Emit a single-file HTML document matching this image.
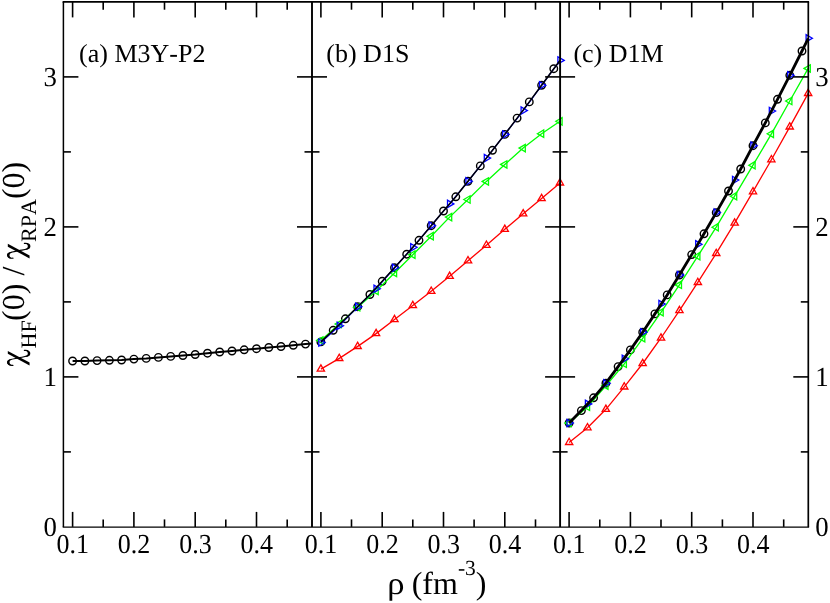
<!DOCTYPE html>
<html><head><meta charset="utf-8"><title>chart</title>
<style>
html,body{margin:0;padding:0;background:#fff;}
svg{display:block;will-change:transform;}
text{font-family:"Liberation Serif",serif;fill:#000;font-kerning:none;text-rendering:geometricPrecision;}
</style></head>
<body>
<svg width="830" height="603" viewBox="0 0 830 603">
<rect width="830" height="603" fill="#fff"/>
<g>
<polyline fill="none" stroke="#000000" stroke-width="2" points="72.6,361.0 84.9,361.0 97.1,360.6 109.4,360.3 121.6,360.0 133.9,359.1 146.2,358.4 158.4,357.4 170.7,356.4 182.9,355.5 195.2,354.5 207.5,353.2 219.7,352.0 232.0,351.0 244.2,349.8 256.5,348.7 268.8,347.5 281.0,346.5 293.3,345.3 305.5,344.1 312.0,343.5"/>
<circle cx="72.6" cy="361.0" r="3.75" fill="none" stroke="#000000" stroke-width="1.4"/>
<circle cx="84.9" cy="361.0" r="3.75" fill="none" stroke="#000000" stroke-width="1.4"/>
<circle cx="97.1" cy="360.6" r="3.75" fill="none" stroke="#000000" stroke-width="1.4"/>
<circle cx="109.4" cy="360.3" r="3.75" fill="none" stroke="#000000" stroke-width="1.4"/>
<circle cx="121.6" cy="360.0" r="3.75" fill="none" stroke="#000000" stroke-width="1.4"/>
<circle cx="133.9" cy="359.1" r="3.75" fill="none" stroke="#000000" stroke-width="1.4"/>
<circle cx="146.2" cy="358.4" r="3.75" fill="none" stroke="#000000" stroke-width="1.4"/>
<circle cx="158.4" cy="357.4" r="3.75" fill="none" stroke="#000000" stroke-width="1.4"/>
<circle cx="170.7" cy="356.4" r="3.75" fill="none" stroke="#000000" stroke-width="1.4"/>
<circle cx="182.9" cy="355.5" r="3.75" fill="none" stroke="#000000" stroke-width="1.4"/>
<circle cx="195.2" cy="354.5" r="3.75" fill="none" stroke="#000000" stroke-width="1.4"/>
<circle cx="207.5" cy="353.2" r="3.75" fill="none" stroke="#000000" stroke-width="1.4"/>
<circle cx="219.7" cy="352.0" r="3.75" fill="none" stroke="#000000" stroke-width="1.4"/>
<circle cx="232.0" cy="351.0" r="3.75" fill="none" stroke="#000000" stroke-width="1.4"/>
<circle cx="244.2" cy="349.8" r="3.75" fill="none" stroke="#000000" stroke-width="1.4"/>
<circle cx="256.5" cy="348.7" r="3.75" fill="none" stroke="#000000" stroke-width="1.4"/>
<circle cx="268.8" cy="347.5" r="3.75" fill="none" stroke="#000000" stroke-width="1.4"/>
<circle cx="281.0" cy="346.5" r="3.75" fill="none" stroke="#000000" stroke-width="1.4"/>
<circle cx="293.3" cy="345.3" r="3.75" fill="none" stroke="#000000" stroke-width="1.4"/>
<circle cx="305.5" cy="344.1" r="3.75" fill="none" stroke="#000000" stroke-width="1.4"/>
<circle cx="320.9" cy="341.9" r="3.75" fill="none" stroke="#000000" stroke-width="1.4"/>
<circle cx="333.2" cy="330.3" r="3.75" fill="none" stroke="#000000" stroke-width="1.4"/>
<circle cx="345.4" cy="318.8" r="3.75" fill="none" stroke="#000000" stroke-width="1.4"/>
<circle cx="357.7" cy="306.7" r="3.75" fill="none" stroke="#000000" stroke-width="1.4"/>
<circle cx="369.9" cy="294.5" r="3.75" fill="none" stroke="#000000" stroke-width="1.4"/>
<circle cx="382.2" cy="281.3" r="3.75" fill="none" stroke="#000000" stroke-width="1.4"/>
<circle cx="394.5" cy="267.7" r="3.75" fill="none" stroke="#000000" stroke-width="1.4"/>
<circle cx="406.7" cy="254.2" r="3.75" fill="none" stroke="#000000" stroke-width="1.4"/>
<circle cx="419.0" cy="240.3" r="3.75" fill="none" stroke="#000000" stroke-width="1.4"/>
<circle cx="431.2" cy="225.7" r="3.75" fill="none" stroke="#000000" stroke-width="1.4"/>
<circle cx="443.5" cy="211.0" r="3.75" fill="none" stroke="#000000" stroke-width="1.4"/>
<circle cx="455.8" cy="196.8" r="3.75" fill="none" stroke="#000000" stroke-width="1.4"/>
<circle cx="468.0" cy="181.3" r="3.75" fill="none" stroke="#000000" stroke-width="1.4"/>
<circle cx="480.3" cy="165.9" r="3.75" fill="none" stroke="#000000" stroke-width="1.4"/>
<circle cx="492.5" cy="150.3" r="3.75" fill="none" stroke="#000000" stroke-width="1.4"/>
<circle cx="504.8" cy="134.4" r="3.75" fill="none" stroke="#000000" stroke-width="1.4"/>
<circle cx="517.1" cy="118.1" r="3.75" fill="none" stroke="#000000" stroke-width="1.4"/>
<circle cx="529.3" cy="101.9" r="3.75" fill="none" stroke="#000000" stroke-width="1.4"/>
<circle cx="541.6" cy="85.3" r="3.75" fill="none" stroke="#000000" stroke-width="1.4"/>
<circle cx="553.8" cy="68.7" r="3.75" fill="none" stroke="#000000" stroke-width="1.4"/>
<polyline fill="none" stroke="#ff0000" stroke-width="1.3" points="320.9,369.1 339.3,358.4 357.7,346.4 376.1,333.6 394.5,319.6 412.8,305.5 431.2,291.2 449.6,276.3 468.0,260.7 486.4,245.2 504.8,229.3 523.2,213.8 541.6,198.5 560.0,182.9"/>
<polygon fill="none" stroke="#ff0000" stroke-width="1.3" points="320.9,364.9 317.2,371.2 324.5,371.2"/>
<polygon fill="none" stroke="#ff0000" stroke-width="1.3" points="339.3,354.2 335.6,360.5 342.9,360.5"/>
<polygon fill="none" stroke="#ff0000" stroke-width="1.3" points="357.7,342.2 354.0,348.5 361.3,348.5"/>
<polygon fill="none" stroke="#ff0000" stroke-width="1.3" points="376.1,329.4 372.4,335.7 379.7,335.7"/>
<polygon fill="none" stroke="#ff0000" stroke-width="1.3" points="394.5,315.4 390.8,321.7 398.1,321.7"/>
<polygon fill="none" stroke="#ff0000" stroke-width="1.3" points="412.8,301.3 409.2,307.6 416.5,307.6"/>
<polygon fill="none" stroke="#ff0000" stroke-width="1.3" points="431.2,287.0 427.6,293.3 434.9,293.3"/>
<polygon fill="none" stroke="#ff0000" stroke-width="1.3" points="449.6,272.1 446.0,278.4 453.3,278.4"/>
<polygon fill="none" stroke="#ff0000" stroke-width="1.3" points="468.0,256.5 464.4,262.8 471.7,262.8"/>
<polygon fill="none" stroke="#ff0000" stroke-width="1.3" points="486.4,241.0 482.8,247.3 490.1,247.3"/>
<polygon fill="none" stroke="#ff0000" stroke-width="1.3" points="504.8,225.1 501.1,231.4 508.4,231.4"/>
<polygon fill="none" stroke="#ff0000" stroke-width="1.3" points="523.2,209.6 519.5,215.9 526.8,215.9"/>
<polygon fill="none" stroke="#ff0000" stroke-width="1.3" points="541.6,194.3 537.9,200.6 545.2,200.6"/>
<polygon fill="none" stroke="#ff0000" stroke-width="1.3" points="560.0,178.7 556.3,185.0 563.6,185.0"/>
<polyline fill="none" stroke="#00ff00" stroke-width="1.3" points="320.9,340.4 339.3,324.0 357.7,307.3 376.1,291.0 394.5,273.0 412.8,254.7 431.2,236.2 449.6,217.1 468.0,199.5 486.4,181.4 504.8,164.4 523.2,148.1 541.6,133.7 560.0,121.3"/>
<polygon fill="none" stroke="#00ff00" stroke-width="1.3" points="316.7,340.4 323.0,336.8 323.0,344.0"/>
<polygon fill="none" stroke="#00ff00" stroke-width="1.3" points="335.1,324.0 341.4,320.4 341.4,327.6"/>
<polygon fill="none" stroke="#00ff00" stroke-width="1.3" points="353.5,307.3 359.8,303.7 359.8,310.9"/>
<polygon fill="none" stroke="#00ff00" stroke-width="1.3" points="371.9,291.0 378.2,287.4 378.2,294.6"/>
<polygon fill="none" stroke="#00ff00" stroke-width="1.3" points="390.2,273.0 396.6,269.4 396.6,276.6"/>
<polygon fill="none" stroke="#00ff00" stroke-width="1.3" points="408.6,254.7 415.0,251.0 415.0,258.3"/>
<polygon fill="none" stroke="#00ff00" stroke-width="1.3" points="427.0,236.2 433.3,232.5 433.3,239.8"/>
<polygon fill="none" stroke="#00ff00" stroke-width="1.3" points="445.4,217.1 451.7,213.4 451.7,220.8"/>
<polygon fill="none" stroke="#00ff00" stroke-width="1.3" points="463.8,199.5 470.1,195.8 470.1,203.2"/>
<polygon fill="none" stroke="#00ff00" stroke-width="1.3" points="482.2,181.4 488.5,177.8 488.5,185.1"/>
<polygon fill="none" stroke="#00ff00" stroke-width="1.3" points="500.6,164.4 506.9,160.8 506.9,168.1"/>
<polygon fill="none" stroke="#00ff00" stroke-width="1.3" points="519.0,148.1 525.3,144.4 525.3,151.8"/>
<polygon fill="none" stroke="#00ff00" stroke-width="1.3" points="537.4,133.7 543.7,130.0 543.7,137.3"/>
<polygon fill="none" stroke="#00ff00" stroke-width="1.3" points="555.8,121.3 562.1,117.6 562.1,125.0"/>
<polyline fill="none" stroke="#0000ff" stroke-width="1.3" points="320.9,342.6 339.3,325.8 357.7,306.7 376.1,288.8 394.5,267.8 412.8,247.3 431.2,225.7 449.6,203.9 468.0,181.3 486.4,158.1 504.8,134.4 523.2,110.6 541.6,85.3 560.0,60.4"/>
<polygon fill="none" stroke="#0000ff" stroke-width="1.3" points="325.1,342.6 318.8,339.0 318.8,346.2"/>
<polygon fill="none" stroke="#0000ff" stroke-width="1.3" points="343.5,325.8 337.2,322.2 337.2,329.4"/>
<polygon fill="none" stroke="#0000ff" stroke-width="1.3" points="361.9,306.7 355.6,303.1 355.6,310.3"/>
<polygon fill="none" stroke="#0000ff" stroke-width="1.3" points="380.3,288.8 374.0,285.2 374.0,292.4"/>
<polygon fill="none" stroke="#0000ff" stroke-width="1.3" points="398.7,267.8 392.4,264.2 392.4,271.4"/>
<polygon fill="none" stroke="#0000ff" stroke-width="1.3" points="417.1,247.3 410.7,243.7 410.7,251.0"/>
<polygon fill="none" stroke="#0000ff" stroke-width="1.3" points="435.5,225.7 429.1,222.0 429.1,229.3"/>
<polygon fill="none" stroke="#0000ff" stroke-width="1.3" points="453.8,203.9 447.5,200.2 447.5,207.6"/>
<polygon fill="none" stroke="#0000ff" stroke-width="1.3" points="472.2,181.3 465.9,177.7 465.9,185.0"/>
<polygon fill="none" stroke="#0000ff" stroke-width="1.3" points="490.6,158.1 484.3,154.4 484.3,161.8"/>
<polygon fill="none" stroke="#0000ff" stroke-width="1.3" points="509.0,134.4 502.7,130.8 502.7,138.1"/>
<polygon fill="none" stroke="#0000ff" stroke-width="1.3" points="527.4,110.6 521.1,106.9 521.1,114.2"/>
<polygon fill="none" stroke="#0000ff" stroke-width="1.3" points="545.8,85.3 539.5,81.6 539.5,89.0"/>
<polygon fill="none" stroke="#0000ff" stroke-width="1.3" points="564.2,60.4 557.9,56.8 557.9,64.0"/>
<polyline fill="none" stroke="#000000" stroke-width="1.5" points="320.9,341.9 333.2,330.3 345.4,318.8 357.7,306.7 369.9,294.5 382.2,281.3 394.5,267.7 406.7,254.2 419.0,240.3 431.2,225.7 443.5,211.0 455.8,196.8 468.0,181.3 480.3,165.9 492.5,150.3 504.8,134.4 517.1,118.1 529.3,101.9 541.6,85.3 553.8,68.7 560.0,60.5"/>
<circle cx="569.1" cy="423.0" r="3.75" fill="none" stroke="#000000" stroke-width="1.4"/>
<circle cx="581.4" cy="410.6" r="3.75" fill="none" stroke="#000000" stroke-width="1.4"/>
<circle cx="593.6" cy="397.8" r="3.75" fill="none" stroke="#000000" stroke-width="1.4"/>
<circle cx="605.9" cy="383.2" r="3.75" fill="none" stroke="#000000" stroke-width="1.4"/>
<circle cx="618.1" cy="366.6" r="3.75" fill="none" stroke="#000000" stroke-width="1.4"/>
<circle cx="630.4" cy="349.9" r="3.75" fill="none" stroke="#000000" stroke-width="1.4"/>
<circle cx="642.7" cy="332.2" r="3.75" fill="none" stroke="#000000" stroke-width="1.4"/>
<circle cx="654.9" cy="313.9" r="3.75" fill="none" stroke="#000000" stroke-width="1.4"/>
<circle cx="667.2" cy="294.9" r="3.75" fill="none" stroke="#000000" stroke-width="1.4"/>
<circle cx="679.4" cy="275.0" r="3.75" fill="none" stroke="#000000" stroke-width="1.4"/>
<circle cx="691.7" cy="254.6" r="3.75" fill="none" stroke="#000000" stroke-width="1.4"/>
<circle cx="704.0" cy="233.8" r="3.75" fill="none" stroke="#000000" stroke-width="1.4"/>
<circle cx="716.2" cy="212.6" r="3.75" fill="none" stroke="#000000" stroke-width="1.4"/>
<circle cx="728.5" cy="191.0" r="3.75" fill="none" stroke="#000000" stroke-width="1.4"/>
<circle cx="740.7" cy="169.0" r="3.75" fill="none" stroke="#000000" stroke-width="1.4"/>
<circle cx="753.0" cy="145.7" r="3.75" fill="none" stroke="#000000" stroke-width="1.4"/>
<circle cx="765.3" cy="122.9" r="3.75" fill="none" stroke="#000000" stroke-width="1.4"/>
<circle cx="777.5" cy="99.3" r="3.75" fill="none" stroke="#000000" stroke-width="1.4"/>
<circle cx="789.8" cy="75.3" r="3.75" fill="none" stroke="#000000" stroke-width="1.4"/>
<circle cx="802.0" cy="51.0" r="3.75" fill="none" stroke="#000000" stroke-width="1.4"/>
<polyline fill="none" stroke="#ff0000" stroke-width="1.3" points="569.1,442.4 587.5,427.7 605.9,409.3 624.3,386.9 642.7,363.5 661.0,338.0 679.4,310.6 697.8,282.4 716.2,253.4 734.6,223.1 753.0,191.7 771.4,159.7 789.8,126.9 808.2,93.4"/>
<polygon fill="none" stroke="#ff0000" stroke-width="1.3" points="569.1,438.2 565.5,444.5 572.8,444.5"/>
<polygon fill="none" stroke="#ff0000" stroke-width="1.3" points="587.5,423.5 583.8,429.8 591.1,429.8"/>
<polygon fill="none" stroke="#ff0000" stroke-width="1.3" points="605.9,405.1 602.2,411.4 609.5,411.4"/>
<polygon fill="none" stroke="#ff0000" stroke-width="1.3" points="624.3,382.7 620.6,389.0 627.9,389.0"/>
<polygon fill="none" stroke="#ff0000" stroke-width="1.3" points="642.7,359.3 639.0,365.6 646.3,365.6"/>
<polygon fill="none" stroke="#ff0000" stroke-width="1.3" points="661.0,333.8 657.4,340.1 664.7,340.1"/>
<polygon fill="none" stroke="#ff0000" stroke-width="1.3" points="679.4,306.4 675.8,312.7 683.1,312.7"/>
<polygon fill="none" stroke="#ff0000" stroke-width="1.3" points="697.8,278.2 694.2,284.5 701.5,284.5"/>
<polygon fill="none" stroke="#ff0000" stroke-width="1.3" points="716.2,249.2 712.6,255.5 719.9,255.5"/>
<polygon fill="none" stroke="#ff0000" stroke-width="1.3" points="734.6,218.9 731.0,225.2 738.3,225.2"/>
<polygon fill="none" stroke="#ff0000" stroke-width="1.3" points="753.0,187.5 749.4,193.8 756.6,193.8"/>
<polygon fill="none" stroke="#ff0000" stroke-width="1.3" points="771.4,155.5 767.7,161.8 775.0,161.8"/>
<polygon fill="none" stroke="#ff0000" stroke-width="1.3" points="789.8,122.7 786.1,129.0 793.4,129.0"/>
<polygon fill="none" stroke="#ff0000" stroke-width="1.3" points="808.2,89.2 804.5,95.5 811.8,95.5"/>
<polyline fill="none" stroke="#00ff00" stroke-width="1.3" points="569.1,423.0 587.5,406.9 605.9,385.7 624.3,363.9 642.7,338.3 661.0,312.3 679.4,284.9 697.8,256.2 716.2,227.2 734.6,196.2 753.0,165.2 771.4,133.8 789.8,101.0 808.2,68.4"/>
<polygon fill="none" stroke="#00ff00" stroke-width="1.3" points="564.9,423.0 571.2,419.4 571.2,426.6"/>
<polygon fill="none" stroke="#00ff00" stroke-width="1.3" points="583.3,406.9 589.6,403.2 589.6,410.5"/>
<polygon fill="none" stroke="#00ff00" stroke-width="1.3" points="601.7,385.7 608.0,382.1 608.0,389.3"/>
<polygon fill="none" stroke="#00ff00" stroke-width="1.3" points="620.1,363.9 626.4,360.2 626.4,367.5"/>
<polygon fill="none" stroke="#00ff00" stroke-width="1.3" points="638.4,338.3 644.8,334.7 644.8,341.9"/>
<polygon fill="none" stroke="#00ff00" stroke-width="1.3" points="656.8,312.3 663.2,308.7 663.2,315.9"/>
<polygon fill="none" stroke="#00ff00" stroke-width="1.3" points="675.2,284.9 681.5,281.2 681.5,288.5"/>
<polygon fill="none" stroke="#00ff00" stroke-width="1.3" points="693.6,256.2 699.9,252.5 699.9,259.8"/>
<polygon fill="none" stroke="#00ff00" stroke-width="1.3" points="712.0,227.2 718.3,223.5 718.3,230.8"/>
<polygon fill="none" stroke="#00ff00" stroke-width="1.3" points="730.4,196.2 736.7,192.5 736.7,199.8"/>
<polygon fill="none" stroke="#00ff00" stroke-width="1.3" points="748.8,165.2 755.1,161.5 755.1,168.8"/>
<polygon fill="none" stroke="#00ff00" stroke-width="1.3" points="767.2,133.8 773.5,130.2 773.5,137.5"/>
<polygon fill="none" stroke="#00ff00" stroke-width="1.3" points="785.6,101.0 791.9,97.3 791.9,104.7"/>
<polygon fill="none" stroke="#00ff00" stroke-width="1.3" points="804.0,68.4 810.3,64.8 810.3,72.1"/>
<polyline fill="none" stroke="#0000ff" stroke-width="1.3" points="569.1,423.0 587.5,403.9 605.9,383.2 624.3,358.7 642.7,332.2 661.0,304.0 679.4,275.0 697.8,244.3 716.2,212.6 734.6,180.0 753.0,145.7 771.4,111.0 789.8,75.3 808.2,38.2"/>
<polygon fill="none" stroke="#0000ff" stroke-width="1.3" points="573.3,423.0 567.0,419.4 567.0,426.6"/>
<polygon fill="none" stroke="#0000ff" stroke-width="1.3" points="591.7,403.9 585.4,400.2 585.4,407.5"/>
<polygon fill="none" stroke="#0000ff" stroke-width="1.3" points="610.1,383.2 603.8,379.6 603.8,386.8"/>
<polygon fill="none" stroke="#0000ff" stroke-width="1.3" points="628.5,358.7 622.2,355.1 622.2,362.3"/>
<polygon fill="none" stroke="#0000ff" stroke-width="1.3" points="646.9,332.2 640.6,328.6 640.6,335.8"/>
<polygon fill="none" stroke="#0000ff" stroke-width="1.3" points="665.3,304.0 658.9,300.4 658.9,307.6"/>
<polygon fill="none" stroke="#0000ff" stroke-width="1.3" points="683.7,275.0 677.3,271.4 677.3,278.6"/>
<polygon fill="none" stroke="#0000ff" stroke-width="1.3" points="702.0,244.3 695.7,240.7 695.7,248.0"/>
<polygon fill="none" stroke="#0000ff" stroke-width="1.3" points="720.4,212.6 714.1,208.9 714.1,216.2"/>
<polygon fill="none" stroke="#0000ff" stroke-width="1.3" points="738.8,180.0 732.5,176.3 732.5,183.7"/>
<polygon fill="none" stroke="#0000ff" stroke-width="1.3" points="757.2,145.7 750.9,142.0 750.9,149.3"/>
<polygon fill="none" stroke="#0000ff" stroke-width="1.3" points="775.6,111.0 769.3,107.3 769.3,114.7"/>
<polygon fill="none" stroke="#0000ff" stroke-width="1.3" points="794.0,75.3 787.7,71.6 787.7,79.0"/>
<polygon fill="none" stroke="#0000ff" stroke-width="1.3" points="812.4,38.2 806.1,34.6 806.1,41.9"/>
<polyline fill="none" stroke="#000000" stroke-width="2.8" points="569.1,423.0 581.4,410.6 593.6,397.8 605.9,383.2 618.1,366.6 630.4,349.9 642.7,332.2 654.9,313.9 667.2,294.9 679.4,275.0 691.7,254.6 704.0,233.8 716.2,212.6 728.5,191.0 740.7,169.0 753.0,145.7 765.3,122.9 777.5,99.3 789.8,75.3 802.0,51.0 808.2,38.5"/>
</g>
<g>
<line x1="62.6" y1="1.9" x2="809.1" y2="1.9" stroke="#000" stroke-width="1.9"/>
<line x1="62.7" y1="527.1" x2="809.1" y2="527.1" stroke="#000" stroke-width="1.35"/>
<line x1="63.4" y1="1.9" x2="63.4" y2="526.9" stroke="#000" stroke-width="1.5"/>
<line x1="312.0" y1="1.9" x2="312.0" y2="526.9" stroke="#000" stroke-width="1.9"/>
<line x1="560.1" y1="1.9" x2="560.1" y2="526.9" stroke="#000" stroke-width="1.9"/>
<line x1="808.3" y1="1.9" x2="808.3" y2="526.9" stroke="#000" stroke-width="1.7"/>
<line x1="72.6" y1="1.9" x2="72.6" y2="17.4" stroke="#000" stroke-width="1.6"/>
<line x1="72.6" y1="526.9" x2="72.6" y2="511.9" stroke="#000" stroke-width="1.6"/>
<line x1="103.2" y1="1.9" x2="103.2" y2="9.7" stroke="#000" stroke-width="1.6"/>
<line x1="103.2" y1="526.9" x2="103.2" y2="519.4" stroke="#000" stroke-width="1.6"/>
<line x1="133.9" y1="1.9" x2="133.9" y2="17.4" stroke="#000" stroke-width="1.6"/>
<line x1="133.9" y1="526.9" x2="133.9" y2="511.9" stroke="#000" stroke-width="1.6"/>
<line x1="164.5" y1="1.9" x2="164.5" y2="9.7" stroke="#000" stroke-width="1.6"/>
<line x1="164.5" y1="526.9" x2="164.5" y2="519.4" stroke="#000" stroke-width="1.6"/>
<line x1="195.2" y1="1.9" x2="195.2" y2="17.4" stroke="#000" stroke-width="1.6"/>
<line x1="195.2" y1="526.9" x2="195.2" y2="511.9" stroke="#000" stroke-width="1.6"/>
<line x1="225.8" y1="1.9" x2="225.8" y2="9.7" stroke="#000" stroke-width="1.6"/>
<line x1="225.8" y1="526.9" x2="225.8" y2="519.4" stroke="#000" stroke-width="1.6"/>
<line x1="256.5" y1="1.9" x2="256.5" y2="17.4" stroke="#000" stroke-width="1.6"/>
<line x1="256.5" y1="526.9" x2="256.5" y2="511.9" stroke="#000" stroke-width="1.6"/>
<line x1="287.2" y1="1.9" x2="287.2" y2="9.7" stroke="#000" stroke-width="1.6"/>
<line x1="287.2" y1="526.9" x2="287.2" y2="519.4" stroke="#000" stroke-width="1.6"/>
<line x1="320.9" y1="1.9" x2="320.9" y2="17.4" stroke="#000" stroke-width="1.6"/>
<line x1="320.9" y1="526.9" x2="320.9" y2="511.9" stroke="#000" stroke-width="1.6"/>
<line x1="351.5" y1="1.9" x2="351.5" y2="9.7" stroke="#000" stroke-width="1.6"/>
<line x1="351.5" y1="526.9" x2="351.5" y2="519.4" stroke="#000" stroke-width="1.6"/>
<line x1="382.2" y1="1.9" x2="382.2" y2="17.4" stroke="#000" stroke-width="1.6"/>
<line x1="382.2" y1="526.9" x2="382.2" y2="511.9" stroke="#000" stroke-width="1.6"/>
<line x1="412.8" y1="1.9" x2="412.8" y2="9.7" stroke="#000" stroke-width="1.6"/>
<line x1="412.8" y1="526.9" x2="412.8" y2="519.4" stroke="#000" stroke-width="1.6"/>
<line x1="443.5" y1="1.9" x2="443.5" y2="17.4" stroke="#000" stroke-width="1.6"/>
<line x1="443.5" y1="526.9" x2="443.5" y2="511.9" stroke="#000" stroke-width="1.6"/>
<line x1="474.1" y1="1.9" x2="474.1" y2="9.7" stroke="#000" stroke-width="1.6"/>
<line x1="474.1" y1="526.9" x2="474.1" y2="519.4" stroke="#000" stroke-width="1.6"/>
<line x1="504.8" y1="1.9" x2="504.8" y2="17.4" stroke="#000" stroke-width="1.6"/>
<line x1="504.8" y1="526.9" x2="504.8" y2="511.9" stroke="#000" stroke-width="1.6"/>
<line x1="535.5" y1="1.9" x2="535.5" y2="9.7" stroke="#000" stroke-width="1.6"/>
<line x1="535.5" y1="526.9" x2="535.5" y2="519.4" stroke="#000" stroke-width="1.6"/>
<line x1="569.1" y1="1.9" x2="569.1" y2="17.4" stroke="#000" stroke-width="1.6"/>
<line x1="569.1" y1="526.9" x2="569.1" y2="511.9" stroke="#000" stroke-width="1.6"/>
<line x1="599.8" y1="1.9" x2="599.8" y2="9.7" stroke="#000" stroke-width="1.6"/>
<line x1="599.8" y1="526.9" x2="599.8" y2="519.4" stroke="#000" stroke-width="1.6"/>
<line x1="630.4" y1="1.9" x2="630.4" y2="17.4" stroke="#000" stroke-width="1.6"/>
<line x1="630.4" y1="526.9" x2="630.4" y2="511.9" stroke="#000" stroke-width="1.6"/>
<line x1="661.0" y1="1.9" x2="661.0" y2="9.7" stroke="#000" stroke-width="1.6"/>
<line x1="661.0" y1="526.9" x2="661.0" y2="519.4" stroke="#000" stroke-width="1.6"/>
<line x1="691.7" y1="1.9" x2="691.7" y2="17.4" stroke="#000" stroke-width="1.6"/>
<line x1="691.7" y1="526.9" x2="691.7" y2="511.9" stroke="#000" stroke-width="1.6"/>
<line x1="722.4" y1="1.9" x2="722.4" y2="9.7" stroke="#000" stroke-width="1.6"/>
<line x1="722.4" y1="526.9" x2="722.4" y2="519.4" stroke="#000" stroke-width="1.6"/>
<line x1="753.0" y1="1.9" x2="753.0" y2="17.4" stroke="#000" stroke-width="1.6"/>
<line x1="753.0" y1="526.9" x2="753.0" y2="511.9" stroke="#000" stroke-width="1.6"/>
<line x1="783.7" y1="1.9" x2="783.7" y2="9.7" stroke="#000" stroke-width="1.6"/>
<line x1="783.7" y1="526.9" x2="783.7" y2="519.4" stroke="#000" stroke-width="1.6"/>
<line x1="63.4" y1="376.9" x2="78.4" y2="376.9" stroke="#000" stroke-width="1.6"/>
<line x1="297.0" y1="376.9" x2="327.0" y2="376.9" stroke="#000" stroke-width="1.6"/>
<line x1="545.1" y1="376.9" x2="575.1" y2="376.9" stroke="#000" stroke-width="1.6"/>
<line x1="793.3" y1="376.9" x2="808.3" y2="376.9" stroke="#000" stroke-width="1.6"/>
<line x1="63.4" y1="226.9" x2="78.4" y2="226.9" stroke="#000" stroke-width="1.6"/>
<line x1="297.0" y1="226.9" x2="327.0" y2="226.9" stroke="#000" stroke-width="1.6"/>
<line x1="545.1" y1="226.9" x2="575.1" y2="226.9" stroke="#000" stroke-width="1.6"/>
<line x1="793.3" y1="226.9" x2="808.3" y2="226.9" stroke="#000" stroke-width="1.6"/>
<line x1="63.4" y1="76.9" x2="78.4" y2="76.9" stroke="#000" stroke-width="1.6"/>
<line x1="297.0" y1="76.9" x2="327.0" y2="76.9" stroke="#000" stroke-width="1.6"/>
<line x1="545.1" y1="76.9" x2="575.1" y2="76.9" stroke="#000" stroke-width="1.6"/>
<line x1="793.3" y1="76.9" x2="808.3" y2="76.9" stroke="#000" stroke-width="1.6"/>
<line x1="63.4" y1="451.9" x2="70.9" y2="451.9" stroke="#000" stroke-width="1.6"/>
<line x1="304.5" y1="451.9" x2="319.5" y2="451.9" stroke="#000" stroke-width="1.6"/>
<line x1="552.6" y1="451.9" x2="567.6" y2="451.9" stroke="#000" stroke-width="1.6"/>
<line x1="800.8" y1="451.9" x2="808.3" y2="451.9" stroke="#000" stroke-width="1.6"/>
<line x1="63.4" y1="301.9" x2="70.9" y2="301.9" stroke="#000" stroke-width="1.6"/>
<line x1="304.5" y1="301.9" x2="319.5" y2="301.9" stroke="#000" stroke-width="1.6"/>
<line x1="552.6" y1="301.9" x2="567.6" y2="301.9" stroke="#000" stroke-width="1.6"/>
<line x1="800.8" y1="301.9" x2="808.3" y2="301.9" stroke="#000" stroke-width="1.6"/>
<line x1="63.4" y1="151.9" x2="70.9" y2="151.9" stroke="#000" stroke-width="1.6"/>
<line x1="304.5" y1="151.9" x2="319.5" y2="151.9" stroke="#000" stroke-width="1.6"/>
<line x1="552.6" y1="151.9" x2="567.6" y2="151.9" stroke="#000" stroke-width="1.6"/>
<line x1="800.8" y1="151.9" x2="808.3" y2="151.9" stroke="#000" stroke-width="1.6"/>
</g>
<g>
<text transform="translate(72.8,553) scale(1,1.06)" text-anchor="middle" font-size="26">0.1</text>
<text transform="translate(134.1,553) scale(1,1.06)" text-anchor="middle" font-size="26">0.2</text>
<text transform="translate(195.4,553) scale(1,1.06)" text-anchor="middle" font-size="26">0.3</text>
<text transform="translate(256.7,553) scale(1,1.06)" text-anchor="middle" font-size="26">0.4</text>
<text transform="translate(321.1,553) scale(1,1.06)" text-anchor="middle" font-size="26">0.1</text>
<text transform="translate(382.4,553) scale(1,1.06)" text-anchor="middle" font-size="26">0.2</text>
<text transform="translate(443.7,553) scale(1,1.06)" text-anchor="middle" font-size="26">0.3</text>
<text transform="translate(505.0,553) scale(1,1.06)" text-anchor="middle" font-size="26">0.4</text>
<text transform="translate(569.3,553) scale(1,1.06)" text-anchor="middle" font-size="26">0.1</text>
<text transform="translate(630.6,553) scale(1,1.06)" text-anchor="middle" font-size="26">0.2</text>
<text transform="translate(691.9,553) scale(1,1.06)" text-anchor="middle" font-size="26">0.3</text>
<text transform="translate(753.2,553) scale(1,1.06)" text-anchor="middle" font-size="26">0.4</text>
<text transform="translate(57.0,536.2) scale(1.03,1.06)" text-anchor="end" font-size="26">0</text>
<text transform="translate(815.3,536.2) scale(1.03,1.06)" text-anchor="start" font-size="26">0</text>
<text transform="translate(57.0,386.2) scale(1.03,1.06)" text-anchor="end" font-size="26">1</text>
<text transform="translate(815.3,386.2) scale(1.03,1.06)" text-anchor="start" font-size="26">1</text>
<text transform="translate(57.0,236.2) scale(1.03,1.06)" text-anchor="end" font-size="26">2</text>
<text transform="translate(815.3,236.2) scale(1.03,1.06)" text-anchor="start" font-size="26">2</text>
<text transform="translate(57.0,86.2) scale(1.03,1.06)" text-anchor="end" font-size="26">3</text>
<text transform="translate(815.3,86.2) scale(1.03,1.06)" text-anchor="start" font-size="26">3</text>
<text x="79.1" y="61.6" font-size="26">(a) M3Y-P2</text>
<text x="326.3" y="61.6" font-size="26">(b) D1S</text>
<text x="573.4" y="61.6" font-size="26">(c) D1M</text>
<text transform="translate(387.3,594) scale(1.08,1.0)" font-size="32">ρ</text>
<text x="411.7" y="594" font-size="32">(fm<tspan font-size="21.5" dy="-19">-3</tspan><tspan dy="19">)</tspan></text>
<text transform="translate(35.8,348.4) rotate(-90) scale(1,1)" font-size="22">HF</text>
<text transform="translate(23.7,321.0) rotate(-90) scale(1,1)" font-size="32">(0)</text>
<text transform="translate(23.7,275.5) rotate(-90) scale(1,1)" font-size="32">/</text>
<text transform="translate(35.8,242.0) rotate(-90) scale(1,1)" font-size="22">RPA</text>
<text transform="translate(23.7,199.1) rotate(-90) scale(1,1)" font-size="32">(0)</text>
<g transform="translate(2,344.0) scale(0.0431)"><path d="M135,160 L640,430 L640,500 L135,228 Z" fill="#000"/><path d="M520,150 C610,140 660,190 640,240 C620,290 480,300 387,322 C294,344 154,354 134,404 C114,454 164,504 254,494" fill="none" stroke="#000" stroke-width="28" stroke-linecap="round"/><path d="M545,148 C640,148 674,215 637,264 C612,290 570,298 540,302 C585,272 604,240 598,208 C592,180 575,164 545,148 Z" fill="#000"/><path d="M229,496 C134,496 100,429 137,380 C162,354 204,346 234,342 C189,372 170,404 176,436 C182,464 199,480 229,496 Z" fill="#000"/></g>
<g transform="translate(2,236.9) scale(0.0431)"><path d="M135,160 L640,430 L640,500 L135,228 Z" fill="#000"/><path d="M520,150 C610,140 660,190 640,240 C620,290 480,300 387,322 C294,344 154,354 134,404 C114,454 164,504 254,494" fill="none" stroke="#000" stroke-width="28" stroke-linecap="round"/><path d="M545,148 C640,148 674,215 637,264 C612,290 570,298 540,302 C585,272 604,240 598,208 C592,180 575,164 545,148 Z" fill="#000"/><path d="M229,496 C134,496 100,429 137,380 C162,354 204,346 234,342 C189,372 170,404 176,436 C182,464 199,480 229,496 Z" fill="#000"/></g>
</g>
</svg>
</body></html>
